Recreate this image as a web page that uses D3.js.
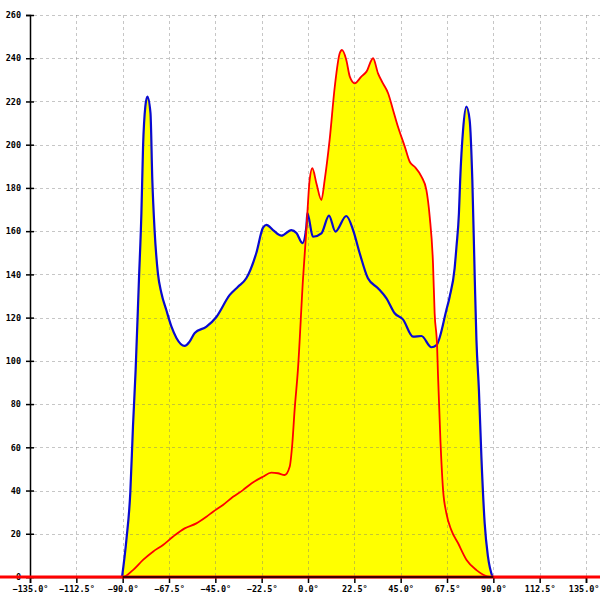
<!DOCTYPE html>
<html><head><meta charset="utf-8">
<script src="https://cdn.jsdelivr.net/npm/d3@7"></script>
<style>body{margin:0;background:#fff}svg{display:block}</style>
</head><body>
<svg id="c" width="600" height="600"></svg>
<script>
const xTicks = [-135, -112.5, -90, -67.5, -45, -22.5, 0, 22.5, 45, 67.5, 90, 112.5, 135];
const yTicks = [0, 20, 40, 60, 80, 100, 120, 140, 160, 180, 200, 220, 240, 260];

const blueAngle = [-90.3,-88.2,-86.3,-85.0,-83.7,-82.1,-80.9,-80.1,-79.0,-78.0,-76.5,-75.6,-74.5,-72.9,-71.2,-68.8,-66.3,-63.9,-59.9,-57.5,-55.0,-49.3,-44.5,-38.0,-34.0,-29.9,-25.1,-21.9,-20.2,-17.0,-12.9,-8.1,-5.6,-2.7,-0.8,-0.3,2.4,6.5,10.2,13.3,18.6,21.9,25.1,29.1,34.0,38.1,42.1,46.1,51.0,55.1,59.9,62.4,67.2,68.8,71.2,72.1,73.3,73.9,75.3,76.9,78.5,79.8,81.0,81.8,83.0,84.2,85.8,87.4,89.6];
const blueValue = [0,17.1,38.9,69.5,95.8,137.4,168.4,199.1,217.6,222.2,214.7,183.7,160.5,140.6,131.4,123.5,115.8,110.6,106.9,108.9,112.9,115.8,120.3,130.5,134.3,138.3,149.9,161.5,162.9,160.5,157.9,160.5,159.1,154.5,162.1,168.3,157.4,159.0,167.2,159.8,167.0,160.5,149.8,138.2,133.6,128.9,122.0,119.2,111.2,111.5,106.3,107.3,123.5,129.7,142.8,152.8,168.4,183.7,206.8,217.6,211.4,183.7,137.4,109.6,86.5,55.7,24.8,9.4,0];

const redAngle = [-150,-89.9,-85.0,-80.1,-75.3,-70.4,-65.6,-59.9,-54.2,-49.3,-46.1,-41.3,-36.4,-31.6,-27.5,-21.9,-17.8,-14.6,-11.3,-8.9,-7.6,-6.5,-4.9,-2.4,-0.8,0.8,2.1,4.1,6.5,8.1,10.5,13.0,15.4,16.5,18.6,20.3,22.7,25.9,28.4,31.6,34.0,36.4,38.9,41.3,43.7,47.0,49.4,51.8,55.1,57.5,59.1,60.7,61.5,62.7,63.1,64.3,65.6,67.2,69.6,72.9,77.0,81.8,88.2,150];
const redValue = [0,0,3.2,7.9,11.7,14.8,18.6,22.5,24.8,27.9,30.2,33.3,37.1,40.2,43.3,46.4,48.3,48.0,47.2,51.0,61.9,77.3,95.8,138.2,160.5,183.7,189.1,182.1,174.4,183.7,202.2,226.8,242.3,243.8,239.2,231.5,228.4,231.5,233.8,240.0,233.0,228.4,223.8,216.1,208.3,199.1,192.1,189.8,185.2,179.0,166.7,145.1,122.0,106.5,94.2,63.4,40.2,29.5,21.7,15.6,7.9,3.2,0.1,0];

const svg = d3.select("#c");
const x = d3.scaleLinear().domain([-135, 135]).range([30, 586]);
const y = d3.scaleLinear().domain([0, 260]).range([577, 15]);

const blue = blueAngle.map((a, i) => [a, blueValue[i]]);
const red = redAngle.map((a, i) => [a, redValue[i]]);

const curve = d3.curveMonotoneX;
const area = d3.area().x(d => x(d[0])).y0(y(0)).y1(d => y(d[1])).curve(curve);
const line = d3.line().x(d => x(d[0])).y(d => y(d[1])).curve(curve);

svg.append("path").datum(blue).attr("d", area).attr("fill", "#ffff00");
svg.append("path").datum(red.filter(d => d[0] > -91 && d[0] < 91)).attr("d", area).attr("fill", "#ffff00");

// grid (drawn over the fill, semi-transparent so it shows on white and yellow)
const grid = svg.append("g").attr("stroke", "rgba(120,120,120,0.42)").attr("stroke-dasharray", "3,3").attr("stroke-width", 1);
yTicks.filter(t => t > 0).forEach(t => {
  grid.append("line").attr("x1", 34).attr("x2", 600).attr("y1", Math.round(y(t)) + 0.5).attr("y2", Math.round(y(t)) + 0.5);
});
xTicks.filter(t => t !== -135).forEach(t => {
  grid.append("line").attr("x1", Math.round(x(t)) + 0.5).attr("x2", Math.round(x(t)) + 0.5).attr("y1", 15).attr("y2", 577);
});

// axes
const yAxis = d3.axisLeft(y).tickValues(yTicks).tickSize(4).tickFormat(d3.format("d"));
const gy = svg.append("g").attr("transform", "translate(30,0)").call(yAxis);
gy.select(".domain").attr("stroke", "#000").attr("stroke-width", 1.5);
gy.selectAll(".tick line").attr("stroke", "#000").attr("x2", 4).attr("x1", -4).attr("stroke-width", 1.5);
gy.selectAll(".tick text").attr("x", -9).attr("font-family", "DejaVu Sans Mono").attr("font-size", 8.5).attr("font-weight", "bold").attr("fill", "#000");

const xAxis = d3.axisBottom(x).tickValues(xTicks).tickSize(6).tickFormat(d => d3.format(".1f")(d) + "°");
const gx = svg.append("g").attr("transform", "translate(0,577)").call(xAxis);
gx.select(".domain").attr("stroke", "#000").attr("stroke-width", 1.5);
gx.selectAll(".tick line").attr("stroke", "#000").attr("stroke-width", 1.5);
gx.selectAll(".tick text").attr("y", 9).attr("font-family", "DejaVu Sans Mono").attr("font-size", 8.5).attr("font-weight", "bold").attr("fill", "#000");
gx.selectAll(".tick text").filter(d => d === 135).attr("text-anchor", "end").attr("x", 13);

svg.append("path").datum(blue).attr("d", line).attr("fill", "none").attr("stroke", "#0a0ad0").attr("stroke-width", 2.2).attr("stroke-linejoin", "round");
svg.append("path").datum(red).attr("d", line).attr("fill", "none").attr("stroke", "#ff0000").attr("stroke-width", 1.8).attr("stroke-linejoin", "round");
// red baseline extends across full width
svg.append("line").attr("x1", 0).attr("x2", 600).attr("y1", 577).attr("y2", 577).attr("stroke", "#ff0000").attr("stroke-width", 3);
svg.append("line").attr("x1", x(-90)).attr("x2", x(90)).attr("y1", 577).attr("y2", 577).attr("stroke", "#000").attr("stroke-width", 1.5);
</script>
</body></html>
